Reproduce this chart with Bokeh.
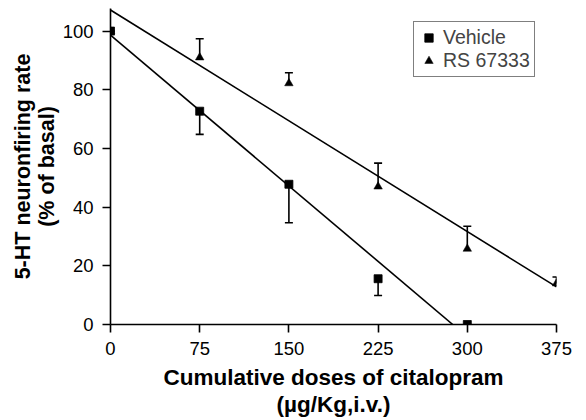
import numpy as np
from bokeh.plotting import figure
from bokeh.models import Range1d, FixedTicker, Legend, LegendItem, Whisker, TeeHead, ColumnDataSource
from bokeh.embed import file_html
from bokeh.resources import INLINE

x_ticks = [0, 75, 150, 225, 300, 375]
y_ticks = [0, 20, 40, 60, 80, 100]

veh_x = [0, 75, 150, 225, 300]
veh_y = [100, 72.7, 47.8, 15.6, 0]
veh_err = [0, 7.9, 13.1, 5.7, 0]

rs_x = [0, 75, 150, 225, 300, 375]
rs_y = [100, 91, 82.2, 47, 25.8, 14]
rs_err = [0, 6.4, 3.6, 8, 7.7, 2.2]

FONT = "Liberation Sans"

p = figure(width=586, height=420, output_backend="svg", toolbar_location=None,
           x_range=Range1d(0, 375), y_range=Range1d(0, 107.7),
           min_border_left=110, min_border_right=30, min_border_top=8, min_border_bottom=96)
p.outline_line_color = None
p.grid.visible = False
p.background_fill_color = "white"
p.border_fill_color = "white"

for ax in (p.xaxis[0], p.yaxis[0]):
    ax.axis_line_color = "black"
    ax.axis_line_width = 1.6
    ax.major_tick_line_color = "black"
    ax.major_tick_line_width = 1.6
    ax.major_tick_out = 8
    ax.major_tick_in = 0
    ax.minor_tick_line_color = None
    ax.major_label_text_font = FONT
    ax.major_label_text_font_size = "18.5px"
    ax.major_label_text_color = "black"
    ax.axis_label_text_font = FONT
    ax.axis_label_text_font_style = "bold"
    ax.axis_label_text_color = "black"

p.xaxis.axis_label_text_font_size = "22.5px"
p.yaxis.axis_label_text_font_size = "21.5px"
p.xaxis.axis_label_text_line_height = 1.08
p.yaxis.axis_label_text_line_height = 1.0
p.xaxis.ticker = FixedTicker(ticks=x_ticks)
p.yaxis.ticker = FixedTicker(ticks=y_ticks)
p.xaxis.axis_label = "Cumulative doses of citalopram\n(\u00b5g/Kg,i.v.)"
p.yaxis.axis_label = "5-HT neuronfiring rate\n(% of basal)"
p.xaxis.major_label_standoff = 9
p.yaxis.major_label_standoff = 9
p.xaxis.axis_label_standoff = 7
p.yaxis.axis_label_standoff = 1

# regression lines
vx = np.array(veh_x, float); vy = np.array(veh_y, float)
s1, b1 = np.polyfit(vx, vy, 1)
x_end1 = -b1 / s1
p.line([0, x_end1], [b1, 0], line_color="black", line_width=1.6)

rx = np.array(rs_x, float); ry = np.array(rs_y, float)
s2, b2 = np.polyfit(rx, ry, 1)
p.line([0, 375], [b2, b2 + s2 * 375], line_color="black", line_width=1.6)

# error bars
vsrc = ColumnDataSource(dict(x=veh_x, y=veh_y, lo=[a - e for a, e in zip(veh_y, veh_err)]))
rsrc = ColumnDataSource(dict(x=rs_x, y=rs_y, hi=[a + e for a, e in zip(rs_y, rs_err)]))
w1 = Whisker(source=vsrc, base="x", upper="y", lower="lo", line_color="black", line_width=1.6,
             upper_head=None, lower_head=TeeHead(size=8, line_color="black", line_width=1.6))
w2 = Whisker(source=rsrc, base="x", upper="hi", lower="y", line_color="black", line_width=1.6,
             lower_head=None, upper_head=TeeHead(size=8, line_color="black", line_width=1.6))
p.add_layout(w1)
p.add_layout(w2)

r_rs = p.scatter("x", "y", source=rsrc, marker="triangle", size=8.5, fill_color="black",
                 line_color="black", line_width=0.5)
r_veh = p.scatter("x", "y", source=vsrc, marker="square", size=8, fill_color="black",
                  line_color="black", line_width=0.8)

legend = Legend(items=[LegendItem(label="Vehicle", renderers=[r_veh]),
                       LegendItem(label="RS 67333", renderers=[r_rs])],
                location=(303, 247))
legend.border_line_color = "black"
legend.border_line_width = 1.6
legend.padding = 4
legend.spacing = 0
legend.margin = 0
legend.label_text_font = FONT
legend.label_text_font_size = "19.5px"
legend.label_height = 21
legend.glyph_height = 21
legend.glyph_width = 21
legend.label_standoff = 4
legend.background_fill_alpha = 1
p.add_layout(legend)

open("out.html", "w").write(file_html(p, INLINE))
